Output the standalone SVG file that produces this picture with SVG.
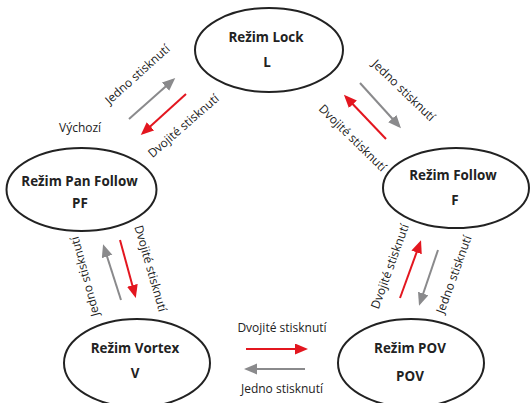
<svg xmlns="http://www.w3.org/2000/svg" width="530" height="403" viewBox="0 0 530 403">
<style>
.node ellipse{fill:#fff;stroke:#222;stroke-width:2}
.nt{font-family:"Open Sans","Liberation Sans",sans-serif;font-weight:bold;font-size:13.4px;fill:#222;text-anchor:middle}
.lbl{font-family:"Open Sans","Liberation Sans",sans-serif;font-size:12px;fill:#222;text-anchor:middle}
.red{stroke:#e3161f;stroke-width:2;fill:none;marker-end:url(#ar)}
.gray{stroke:#8a8a8c;stroke-width:2;fill:none;marker-end:url(#ag)}
</style>
<defs>
<marker id="ar" markerUnits="userSpaceOnUse" markerWidth="14" markerHeight="12" refX="10" refY="5.5" orient="auto"><path d="M0,0 L13,5.5 L0,11 z" fill="#e3161f"/></marker>
<marker id="ag" markerUnits="userSpaceOnUse" markerWidth="14" markerHeight="12" refX="10" refY="5.5" orient="auto"><path d="M0,0 L13,5.5 L0,11 z" fill="#8a8a8c"/></marker>
</defs>
<rect width="530" height="403" fill="#fff"/>
<g id="lock" class="node"><ellipse cx="269" cy="50" rx="74" ry="42"/><text class="nt" x="266" y="42">Režim Lock</text><text class="nt" x="267" y="67">L</text></g>
<g id="panfollow" class="node"><ellipse cx="81.5" cy="189.5" rx="75" ry="41.5"/><text class="nt" x="79.5" y="186">Režim Pan Follow</text><text class="nt" x="80" y="208">PF</text></g>
<g id="follow" class="node"><ellipse cx="456" cy="188" rx="73" ry="40"/><text class="nt" x="453" y="180">Režim Follow</text><text class="nt" x="455" y="205">F</text></g>
<g id="vortex" class="node"><ellipse cx="137" cy="363" rx="73" ry="44"/><text class="nt" x="135" y="353">Režim Vortex</text><text class="nt" x="135" y="378">V</text></g>
<g id="pov" class="node"><ellipse cx="411" cy="363" rx="73" ry="44"/><text class="nt" x="410" y="353">Režim POV</text><text class="nt" x="410" y="381">POV</text></g>
<g id="connectors">
<line class="gray" x1="129" y1="119" x2="173" y2="80"/>
<line class="red" x1="186" y1="94" x2="143" y2="133"/>
<line class="gray" x1="360" y1="83" x2="399" y2="126"/>
<line class="red" x1="386" y1="139" x2="346" y2="97"/>
<line class="gray" x1="121" y1="300" x2="104" y2="247"/>
<line class="red" x1="120" y1="240" x2="135" y2="295"/>
<line class="red" x1="400" y1="298" x2="420" y2="243"/>
<line class="gray" x1="438" y1="250" x2="420" y2="303"/>
<line class="red" x1="246" y1="349" x2="305" y2="349"/>
<line class="gray" x1="305" y1="369" x2="247" y2="369"/>
</g>
<g id="labels">
<text class="lbl" x="59" y="132" style="text-anchor:start">Výchozí</text>
<text class="lbl" transform="translate(137.5,74.5) rotate(-42)" y="4">Jedno stisknutí</text>
<text class="lbl" transform="translate(183.5,126) rotate(-41)" y="4">Dvojité stisknutí</text>
<text class="lbl" transform="translate(403.5,90.5) rotate(44)" y="4">Jedno stisknutí</text>
<text class="lbl" transform="translate(352.5,138) rotate(44.5)" y="4">Dvojité stisknutí</text>
<text class="lbl" transform="translate(85,276.5) rotate(-105)" y="4">Jedno stisknutí</text>
<text class="lbl" transform="translate(150.5,268.5) rotate(74)" y="4">Dvojité stisknutí</text>
<text class="lbl" transform="translate(390,266.5) rotate(-70)" y="4">Dvojité stisknutí</text>
<text class="lbl" transform="translate(454,274.5) rotate(-70)" y="4">Jedno stisknutí</text>
<text class="lbl" x="282" y="332">Dvojité stisknutí</text>
<text class="lbl" x="282" y="393">Jedno stisknutí</text>
</g>
</svg>
